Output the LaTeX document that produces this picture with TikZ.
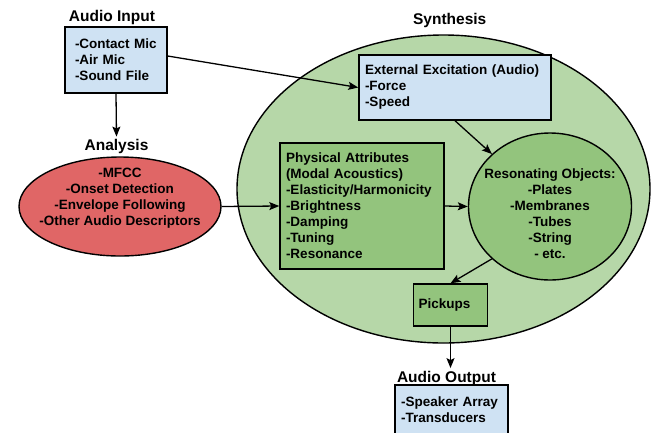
\documentclass[tikz,border=0pt]{standalone}
\usepackage{fontspec}
\setmainfont{Liberation Sans}
\usepackage{tikz}
\usetikzlibrary{shapes.geometric, arrows.meta}
\definecolor{boxblue}{HTML}{CFE2F3}
\definecolor{analysisred}{HTML}{E06666}
\definecolor{synthgreen}{HTML}{B6D7A8}
\definecolor{partgreen}{HTML}{93C47D}

\begin{document}
\begin{tikzpicture}[x=1pt, y=-1pt]
  \useasboundingbox (0,0) rectangle (656,432);
    \tikzstyle{title}=[font=\fontsize{15.5}{18}\selectfont\bfseries, inner sep=2.5pt]
    \tikzstyle{body}=[font=\fontsize{13.5}{16}\selectfont\bfseries]
    \tikzstyle{listbox}=[body, draw=black, line width=1.4pt, align=left, inner ysep=0pt]
    \tikzstyle{blob}=[ellipse, draw=black, line width=1.4pt, inner sep=0pt]
    \tikzstyle{flow}=[draw=black, line width=1.3pt, -{Stealth[length=10pt, width=8pt, inset=2pt]}]

  % synthesis area
  \node (synth) at (443.5,189) [blob, fill=synthgreen, minimum width=413pt, minimum height=308pt] {};
  \node (synthtitle) at (449.7,20.5) [title] {Synthesis};

  % input side
  \node (inputtitle) at (112,17.5) [title] {Audio Input};
  \node (input) at (116,60) [listbox, fill=boxblue, text width=82pt, inner xsep=10pt, minimum height=66pt]
    {-Contact Mic\\-Air Mic\\-Sound File};
  \node (analysistitle) at (116.5,146.5) [title] {Analysis};
  \node (analysis) at (120,206.5) [blob, fill=analysisred, minimum width=202pt, minimum height=99pt] {};
  \node (analysistext) at (120,198) [body, align=center]
    {-MFCC\\-Onset Detection\\-Envelope Following\\-Other Audio Descriptors};

  % inside synthesis
  \node (excite) at (455,87.5) [listbox, fill=boxblue, text width=180pt, inner xsep=6pt, minimum height=65pt]
    {External Excitation (Audio)\\-Force\\-Speed};
  \node (physical) at (362,206) [listbox, fill=partgreen, text width=152pt, inner xsep=6pt, minimum height=126pt]
    {Physical Attributes\\(Modal Acoustics)\\-Elasticity/Harmonicity\\-Brightness\\-Damping\\-Tuning\\-Resonance};
  \node (reson) at (550,206.5) [blob, fill=partgreen, minimum width=163pt, minimum height=147pt] {};
  \node (resontext) at (550,213.5) [body, align=center]
    {Resonating Objects:\\-Plates\\-Membranes\\-Tubes\\-String\\- etc.};
  \node (pickups) at (450.5,305) [listbox, fill=partgreen, text width=64pt, inner xsep=5pt, minimum height=42pt] {Pickups};

  % output side
  \node (outputtitle) at (446.5,378) [title] {Audio Output};
  \node (output) at (451.5,410) [listbox, fill=boxblue, text width=101pt, inner xsep=6pt, minimum height=50pt]
    {-Speaker Array\\-Transducers};

\path (input.south) edge [flow] (analysistitle.north);
\path ([yshift=4pt]input.east) edge [flow] (excite.west);
\path (analysis.east) edge [flow] (physical.west);
\path (physical.east) edge [flow] (reson.west);
\path (excite.south) edge [flow] (reson);
\path (reson.222) edge [flow] (pickups.north);
\path (pickups.south) edge [flow] (pickups.south |- outputtitle.north);
    \end{tikzpicture}
\end{document}
